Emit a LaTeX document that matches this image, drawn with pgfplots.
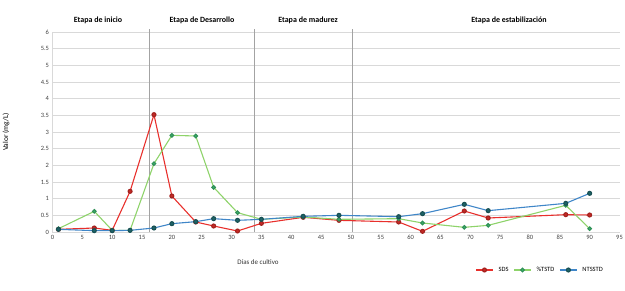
\documentclass[border=0pt]{standalone}
\usepackage{pgfplots}
\pgfplotsset{compat=1.18}
\usepackage{fontspec}
\setmainfont{Carlito}
\definecolor{cRed}{HTML}{E8302C}
\definecolor{cGreenL}{HTML}{8ED36A}
\definecolor{cGreenM}{HTML}{3CB46E}
\definecolor{cTealL}{HTML}{3F86C8}
\definecolor{cTealM}{HTML}{1E6468}
\definecolor{cGrid}{HTML}{D9D9D9}
\begin{document}
\begin{tikzpicture}
\path[use as bounding box] (0,0) rectangle (625bp,291bp);
\begin{axis}[
  at={(52.5bp,59bp)}, anchor=south west,
  scale only axis, width=567bp, height=200bp,
  xmin=0, xmax=95, ymin=0, ymax=6,
  xtick={0,5,...,95}, ytick={0,0.5,...,6},
  /pgf/number format/assume math mode=true,
  yticklabel style={/pgf/number format/fixed,/pgf/number format/precision=1},
  tick label style={font=\fontsize{6.5}{7}\selectfont, text=black!75},
  major tick length=0pt,
  axis lines*=left,
  axis line style={cGrid},
  ymajorgrids, grid style={cGrid, line width=0.6pt},
  ylabel={Valor (mg/L)},
  ylabel style={font=\fontsize{7.5}{8}\selectfont, at={(axis description cs:-0.07,0.5)}},
  legend style={at={(axis description cs:0.86,-0.19)}, anchor=center, draw=none,
    font=\fontsize{6.5}{7}\selectfont, legend columns=3, column sep=3pt},
  clip=false,
]
\addplot[cGrid!40!gray, line width=0.8pt, forget plot] coordinates {(16.3,0) (16.3,6.1)};
\addplot[cGrid!40!gray, line width=0.8pt, forget plot] coordinates {(33.8,0) (33.8,6.1)};
\addplot[cGrid!40!gray, line width=0.8pt, forget plot] coordinates {(50.3,0) (50.3,6.1)};
\addplot[cRed, line width=1.1pt, mark=*, mark size=2pt, mark options={fill=cRed!85!black, draw=cRed!70!black}] coordinates {
(1,0.08) (7,0.12) (10,0.05) (13,1.22) (17,3.52) (20,1.08) (24,0.3) (27,0.18) (31,0.03) (35,0.26) (42,0.44) (48,0.35) (58,0.3) (62,0.02) (69,0.63) (73,0.42) (86,0.52) (90,0.51)};
\addlegendentry{SDS}
\addplot[cGreenL, line width=1.1pt, mark=*, mark size=1.8pt, mark options={fill=cGreenM, draw=cGreenM!80!black}] coordinates {
(1,0.1) (7,0.62) (10,0.05) (13,0.05) (17,2.05) (20,2.9) (24,2.88) (27,1.34) (31,0.58) (35,0.38) (42,0.45) (48,0.38) (58,0.4) (62,0.27) (69,0.14) (73,0.2) (86,0.8) (90,0.1)};
\addlegendentry{\%TSTD}
\addplot[cTealL, line width=1.1pt, mark=*, mark size=2pt, mark options={fill=cTealM, draw=cTealM!80!black}] coordinates {
(1,0.08) (7,0.04) (10,0.04) (13,0.05) (17,0.12) (20,0.25) (24,0.31) (27,0.4) (31,0.35) (35,0.38) (42,0.47) (48,0.5) (58,0.46) (62,0.55) (69,0.83) (73,0.64) (86,0.86) (90,1.16)};
\addlegendentry{NTSSTD}
\end{axis}
\begin{scope}[font=\bfseries\fontsize{8}{9}\selectfont]
\node at (98bp,271bp) {Etapa de inicio};
\node at (202bp,271bp) {Etapa de Desarrollo};
\node at (308bp,271bp) {Etapa de madurez};
\node at (509bp,271bp) {Etapa de estabilización};
\end{scope}
\node[font=\fontsize{7}{8}\selectfont, text=black!80] at (258bp,29bp) {Días de cultivo};
\end{tikzpicture}
\end{document}
